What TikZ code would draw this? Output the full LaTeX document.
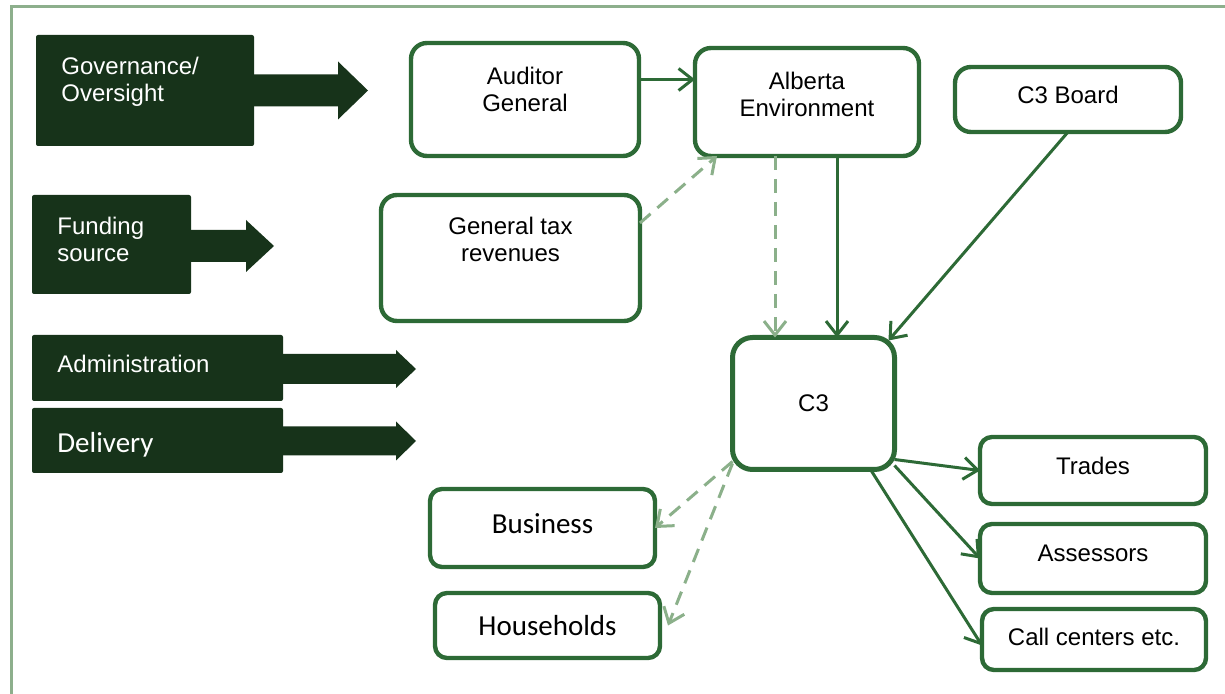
\documentclass[tikz,border=0pt]{standalone}
\usepackage{fontspec}
\setmainfont{Liberation Sans}
\newfontfamily\calfont{Carlito}
\usepackage{tikz}
\usetikzlibrary{positioning}
\usetikzlibrary{arrows.meta}

\definecolor{darkgreen}{HTML}{17331A}
\definecolor{boxgreen}{HTML}{2D6A36}
\definecolor{lightgreen}{HTML}{8BB08A}
\definecolor{framegreen}{HTML}{8DAF8C}

\tikzset{
    gbox/.style={draw=boxgreen,line width=2.2pt,rounded corners=8pt,fill=white,inner sep=0pt,outer sep=0pt},
    dbox/.style={fill=darkgreen,rounded corners=1pt,inner sep=0pt,outer sep=0pt},
    boxtext/.style={anchor=north,align=center,inner sep=0pt,yshift=-12pt},
    dtext/.style={anchor=north west,align=left,inner sep=0pt,text=white,xshift=12.5pt,yshift=-11pt},
    conn/.style={draw=boxgreen,line width=1.5pt,-{Straight Barb[length=7pt,width=11pt]}},
    dconn/.style={conn,draw=lightgreen,dash pattern=on 7pt off 4.5pt}
}

\begin{document}
\begin{tikzpicture}[x=0.5pt,y=-0.5pt,font=\fontsize{12}{13.5}\selectfont]
        \useasboundingbox (0,0) rectangle (1225,694);
        \draw[framegreen,line width=1.5pt] (11,6.5) rectangle (1240,710);

        % left column
        \node [dbox,minimum width=109pt,minimum height=55.5pt,label={[dtext]north west:Governance/\\Oversight}] (gov) at (145,90.5) {};
        \node [dbox,minimum width=79.5pt,minimum height=49.5pt,label={[dtext]north west:Funding\\source}] (fund) at (111.5,244.5) {};
        \node [dbox,minimum width=125.5pt,minimum height=33pt,label={[dtext,yshift=1pt]north west:Administration}] (admin) at (157.5,368) {};
        \node [dbox,minimum width=125.5pt,minimum height=32.5pt,below=3.5pt of admin,label={[dtext,yshift=-1pt]north west:{\calfont\fontsize{14.5}{16}\selectfont Delivery}}] (deliv) {};
        \fill[darkgreen] ([yshift=8pt]gov.east) -- ++(84,0) -- ++(0,-13) -- ++(30,29) -- ++(-30,29) -- ++(0,-13) -- ++(-84,0) -- cycle;
        \fill[darkgreen] ([yshift=7.25pt]fund.east) -- ++(55,0) -- ++(0,-10) -- ++(28,26) -- ++(-28,26) -- ++(0,-10) -- ++(-55,0) -- cycle;
        \fill[darkgreen] ([yshift=7pt]admin.east) -- ++(113,0) -- ++(0,-4) -- ++(20,19) -- ++(-20,19) -- ++(0,-4) -- ++(-113,0) -- cycle;
        \fill[darkgreen] ([yshift=7pt]deliv.east) -- ++(113,0) -- ++(0,-5) -- ++(20,19.5) -- ++(-20,19.5) -- ++(0,-5) -- ++(-113,0) -- cycle;

        % boxes
        \node [gbox,minimum width=114pt,minimum height=56.5pt,label={[boxtext]north:Auditor\\General}] (ag) at (525,99.5) {};
        \node [gbox,minimum width=112pt,minimum height=54pt,label={[boxtext]north:Alberta\\Environment}] (ae) at (807,102) {};
        \node [gbox,minimum width=113pt,minimum height=32.5pt,text depth=4.5pt] (board) at (1068,99.5) {C3 Board};
        \node [gbox,minimum width=129.5pt,minimum height=63pt,label={[boxtext,yshift=1pt]north:General tax\\revenues}] (tax) at (510.5,258) {};
        \node [gbox,rounded corners=10pt,line width=2.5pt,minimum width=81pt,minimum height=66pt] (c3) at (813.5,403.5) {C3};
        \node [gbox,rounded corners=6pt,minimum width=113pt,minimum height=33.5pt,text depth=5pt] (trades) at (1093,470.5) {Trades};
        \node [gbox,rounded corners=6pt,minimum width=113pt,minimum height=34.5pt,text depth=5pt,below=10pt of trades] (assess) {Assessors};
        \node [gbox,rounded corners=6pt,minimum width=112pt,minimum height=30.5pt,text depth=3pt,below=8pt of assess,xshift=0.5pt] (call) {Call centers etc.};
        \node [gbox,rounded corners=6pt,minimum width=112.5pt,minimum height=39pt,text depth=4.5pt,font=\calfont\fontsize{14.5}{16}\selectfont] (bus) at (542.5,528) {Business};
        \node [gbox,rounded corners=6pt,minimum width=112.5pt,minimum height=32.5pt,below=13pt of bus,xshift=2.5pt,font=\calfont\fontsize{14.5}{16}\selectfont] (house) {Households};

        % connectors
        \draw[conn] ([yshift=10pt]ag.east) -- ([yshift=10pt]ag.east -| ae.west);
        \draw[dconn] ([yshift=17.5pt]tax.east) -- ([xshift=11pt]ae.south west);
        \draw[dconn] ([xshift=-16pt]ae.south) -- ([xshift=-16pt]ae.south |- c3.north);
        \draw[conn] ([xshift=15pt]ae.south) -- ([xshift=15pt]ae.south |- c3.north);
        \draw[conn] (board.south) -- ([xshift=-3pt,yshift=-1.5pt]c3.north east);
        \draw[conn] ([yshift=5pt]c3.south east) -- (trades.west);
        \draw[conn] ([yshift=2pt]c3.south east) -- (assess.west);
        \draw[conn] ([xshift=-12pt]c3.south east) -- ([yshift=-3pt]call.west);
        \draw[dconn] ([yshift=4pt]c3.south west) -- (bus.east);
        \draw[dconn] ([yshift=3pt]c3.south west) -- ([xshift=4pt]house.east);
    \end{tikzpicture}
\end{document}
